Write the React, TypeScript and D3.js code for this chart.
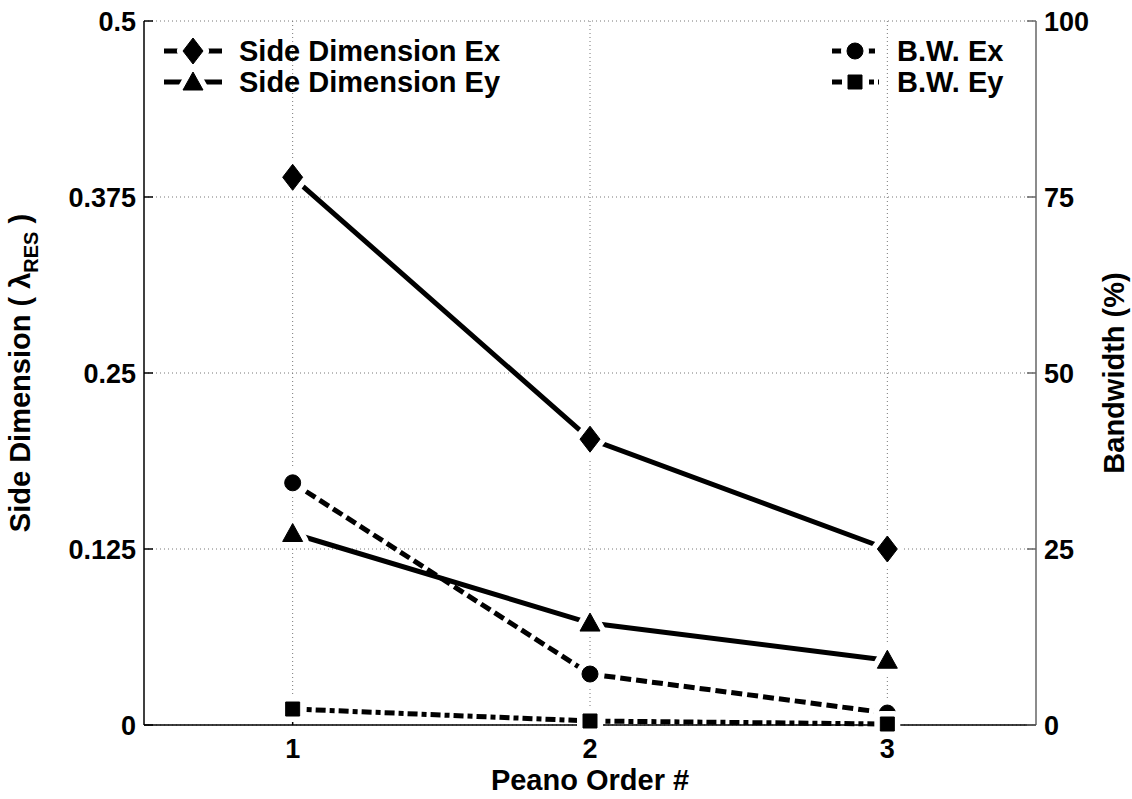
import React from "react";
import * as d3 from "d3";

const orders = [1, 2, 3];
const sideEx = [0.389, 0.203, 0.125];
const sideEy = [0.136, 0.0724, 0.046];
const bwEx = [34.4, 7.24, 1.7];
const bwEy = [2.27, 0.57, 0.14];
const leftTicks = [0, 0.125, 0.25, 0.375, 0.5];
const rightTicks = [0, 25, 50, 75, 100];
const xTicks = [1, 2, 3];

const W = 1132, H = 799;
const L = 144, R = 1036, T = 21, B = 725;
const FONT = "'Liberation Sans', Arial, Helvetica, sans-serif";

type Shape = "diamond" | "triangle" | "circle" | "square";

function markerPath(shape: Shape): string {
  switch (shape) {
    case "diamond":
      return "M0,-13 L10,0 L0,13 L-10,0 Z";
    case "triangle":
      return "M0,-10 L10,8 L-10,8 Z";
    case "circle":
      return d3.arc()({ innerRadius: 0, outerRadius: 8, startAngle: 0, endAngle: 2 * Math.PI }) as string;
    case "square":
      return "M-7,-7 L7,-7 L7,7 L-7,7 Z";
  }
}

function Marker({ x, y, shape }: { x: number; y: number; shape: Shape }) {
  const p = markerPath(shape);
  return (
    <g transform={`translate(${x},${y})`}>
      <path d={p} fill="white" stroke="white" strokeWidth={12} strokeLinejoin="round" />
      <path d={p} fill="black" stroke="black" strokeWidth={1} />
    </g>
  );
}

export default function App() {
  const x = d3.scaleLinear().domain([0.5, 3.5]).range([L, R]);
  const yL = d3.scaleLinear().domain([0, 0.5]).range([B, T]);
  const yR = d3.scaleLinear().domain([0, 100]).range([B, T]);

  const lineL = d3.line<number>().x((_, i) => x(orders[i])).y((d) => yL(d));
  const lineR = d3.line<number>().x((_, i) => x(orders[i])).y((d) => yR(d));

  const DASH = "11,5";
  const DASHDOT = "10,4,5,4";

  const series = [
    { path: lineL(sideEx), pts: sideEx.map(yL), shape: "diamond" as Shape, dash: "" },
    { path: lineL(sideEy), pts: sideEy.map(yL), shape: "triangle" as Shape, dash: "" },
    { path: lineR(bwEx), pts: bwEx.map(yR), shape: "circle" as Shape, dash: DASH },
    { path: lineR(bwEy), pts: bwEy.map(yR), shape: "square" as Shape, dash: DASHDOT },
  ];

  const legendLeft = [
    { label: "Side Dimension Ex", shape: "diamond" as Shape, dash: "", y: 51 },
    { label: "Side Dimension Ey", shape: "triangle" as Shape, dash: "", y: 82 },
  ];
  const legendRight = [
    { label: "B.W. Ex", shape: "circle" as Shape, dash: DASH, y: 51 },
    { label: "B.W. Ey", shape: "square" as Shape, dash: DASHDOT, y: 82 },
  ];

  const tickFont = { fontFamily: FONT, fontWeight: 700, fontSize: 27 } as const;
  const labFont = { fontFamily: FONT, fontWeight: 700, fontSize: 29 } as const;

  return (
    <svg width={W} height={H} style={{ position: "absolute", left: 0, top: 0, background: "white" }}>
      <rect x={0} y={0} width={W} height={H} fill="white" />
      {/* grid */}
      {leftTicks.map((t) => (
        <line key={"gy" + t} x1={L} x2={R} y1={yL(t)} y2={yL(t)} stroke="#777" strokeWidth={1} strokeDasharray="1,3" />
      ))}
      {xTicks.map((t) => (
        <line key={"gx" + t} x1={x(t)} x2={x(t)} y1={T} y2={B} stroke="#777" strokeWidth={1} strokeDasharray="1,3" />
      ))}
      {/* axes */}
      <line x1={L} x2={L} y1={T} y2={B} stroke="black" strokeWidth={1.5} />
      <line x1={R} x2={R} y1={T} y2={B} stroke="#666" strokeWidth={1.5} />
      <line x1={L} x2={R} y1={B} y2={B} stroke="black" strokeWidth={1.5} />
      {leftTicks.map((t) => (
        <g key={"lt" + t}>
          <line x1={L} x2={L + 9} y1={yL(t)} y2={yL(t)} stroke="black" strokeWidth={1.5} />
          <text x={L - 8} y={yL(t) + 10} textAnchor="end" {...tickFont}>{String(t)}</text>
        </g>
      ))}
      {rightTicks.map((t) => (
        <g key={"rt" + t}>
          <line x1={R - 9} x2={R} y1={yR(t)} y2={yR(t)} stroke="#666" strokeWidth={1.5} />
          <text x={R + 8} y={yR(t) + 10} textAnchor="start" {...tickFont}>{String(t)}</text>
        </g>
      ))}
      {xTicks.map((t) => (
        <g key={"xt" + t}>
          <line x1={x(t)} x2={x(t)} y1={B} y2={B - 9} stroke="black" strokeWidth={1.5} />
          <text x={x(t)} y={B + 33} textAnchor="middle" {...tickFont}>{String(t)}</text>
        </g>
      ))}
      {/* axis titles */}
      <text x={(L + R) / 2} y={790} textAnchor="middle" {...labFont}>Peano Order #</text>
      <text transform={`translate(30,${(T + B) / 2}) rotate(-90)`} textAnchor="middle" {...labFont}>
        Side Dimension ( λ<tspan fontSize={20} dy={8}>RES</tspan><tspan dy={-8}> )</tspan>
      </text>
      <text transform={`translate(1124,${(T + B) / 2}) rotate(-90)`} textAnchor="middle" {...labFont}>Bandwidth (%)</text>
      {/* lines */}
      {series.map((s, i) => (
        <path key={"l" + i} d={s.path || ""} fill="none" stroke="black" strokeWidth={5} strokeDasharray={s.dash || undefined} />
      ))}
      {/* markers */}
      {series.map((s, i) =>
        s.pts.map((py, j) => <Marker key={"m" + i + "-" + j} x={x(orders[j])} y={py} shape={s.shape} />)
      )}
      {/* legends */}
      {legendLeft.map((l) => (
        <g key={l.label}>
          <line x1={164} x2={222} y1={l.y} y2={l.y} stroke="black" strokeWidth={5} strokeDasharray={l.dash || undefined} />
          <Marker x={193} y={l.y} shape={l.shape} />
          <text x={239} y={l.y + 10} {...labFont}>{l.label}</text>
        </g>
      ))}
      {legendRight.map((l) => (
        <g key={l.label}>
          <line x1={832} x2={879} y1={l.y} y2={l.y} stroke="black" strokeWidth={5} strokeDasharray={l.dash || undefined} />
          <Marker x={855} y={l.y} shape={l.shape} />
          <text x={897} y={l.y + 10} {...labFont}>{l.label}</text>
        </g>
      ))}
    </svg>
  );
}
